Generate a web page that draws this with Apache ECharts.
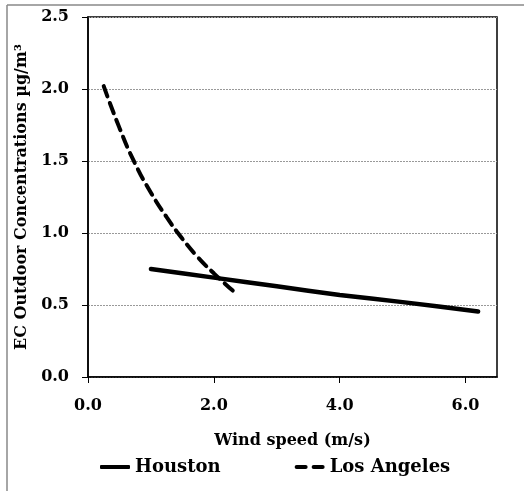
<!DOCTYPE html>
<html>
<head>
<meta charset="utf-8">
<script src="https://cdn.jsdelivr.net/npm/echarts@6/dist/echarts.min.js"></script>
<style>html,body{margin:0;padding:0;background:#fff}#c{width:527px;height:491px}</style>
</head>
<body>
<div id="c"></div>
<script>
const houstonX = [1.0, 2.0, 3.0, 4.0, 5.0, 6.2];
const houstonY = [0.75, 0.69, 0.63, 0.57, 0.52, 0.455];
const laX = [0.25, 0.5, 0.75, 1.0, 1.25, 1.5, 1.75, 2.0, 2.3];
const laY = [2.02, 1.73, 1.48, 1.28, 1.11, 0.96, 0.83, 0.72, 0.60];
const seriesNames = ['Houston', 'Los Angeles'];
const xTitle = 'Wind speed (m/s)';
const yTitle = 'EC Outdoor Concentrations µg/m³';

const font = 'DejaVu Serif';
const chart = echarts.init(document.getElementById('c'), null, {renderer: 'canvas'});
chart.setOption({
  animation: false,
  backgroundColor: '#fff',
  grid: {left: 88, right: 30, top: 17, bottom: 114, show: true, borderColor: '#000', borderWidth: 1.5},
  legend: {
    left: 100, top: 458, padding: 0, itemWidth: 30, itemHeight: 4, itemGap: 74,
    textStyle: {fontFamily: font, fontWeight: 'bold', fontSize: 18, color: '#000'},
    itemStyle: {color: '#000', borderWidth: 0},
    data: [
      {name: seriesNames[0], icon: 'roundRect'},
      {name: seriesNames[1], icon: 'path://M2,0h9a2,2 0 0 1 0,4h-9a2,2 0 0 1 0,-4z M19,0h9a2,2 0 0 1 0,4h-9a2,2 0 0 1 0,-4z'}
    ]
  },
  xAxis: {
    type: 'value', min: 0, max: 6.5, interval: 2,
    name: xTitle, nameLocation: 'middle', nameGap: 56,
    nameTextStyle: {fontFamily: font, fontWeight: 'bold', fontSize: 16, color: '#000'},
    axisLine: {show: true, lineStyle: {color: '#000', width: 1.5}},
    axisTick: {show: true, length: 6, lineStyle: {color: '#000'}},
    axisLabel: {margin: 21, showMaxLabel: false, fontFamily: font, fontWeight: 'bold', fontSize: 16, color: '#000',
      formatter: v => (Math.abs(v - 6.5) < 1e-9 ? '' : v.toFixed(1))},
    splitLine: {show: false}
  },
  yAxis: {
    type: 'value', min: 0, max: 2.5, interval: 0.5,
    name: yTitle, nameLocation: 'middle', nameGap: 58, nameRotate: 90,
    nameTextStyle: {fontFamily: font, fontWeight: 'bold', fontSize: 16, color: '#000'},
    axisLine: {show: true, lineStyle: {color: '#000', width: 1.5}},
    axisTick: {show: true, length: 6, lineStyle: {color: '#000'}},
    axisLabel: {margin: 19, fontFamily: font, fontWeight: 'bold', fontSize: 16, color: '#000',
      formatter: v => v.toFixed(1)},
    splitLine: {show: true, lineStyle: {color: '#999', type: [2, 1], width: 1}}
  },
  series: [
    {name: seriesNames[0], type: 'line', smooth: 0.2, symbol: 'none',
      data: houstonX.map((x, i) => [x, houstonY[i]]),
      lineStyle: {color: '#000', width: 4.5, cap: 'round'}, itemStyle: {color: '#000'}},
    {name: seriesNames[1], type: 'line', smooth: true, symbol: 'none',
      data: laX.map((x, i) => [x, laY[i]]),
      lineStyle: {color: '#000', width: 4, type: [11, 7], cap: 'round'}, itemStyle: {color: '#000'}}
  ],
  graphic: [
    {type: 'line', shape: {x1: 7, y1: 5, x2: 524, y2: 5}, style: {stroke: '#888', lineWidth: 1.5}, silent: true},
    {type: 'line', shape: {x1: 7, y1: 5, x2: 7, y2: 491}, style: {stroke: '#888', lineWidth: 1.5}, silent: true}
  ]
});
</script>
</body>
</html>
